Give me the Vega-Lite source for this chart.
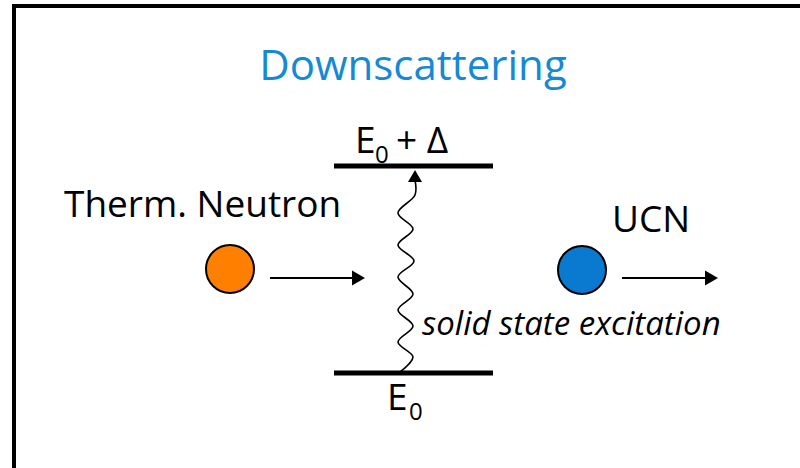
{
  "$schema": "https://vega.github.io/schema/vega-lite/v6.json",
  "width": 800,
  "height": 468,
  "autosize": {"type": "fit", "contains": "padding"},
  "padding": 0,
  "background": "white",
  "config": {"view": {"stroke": null}},
  "datasets": {
    "frame": [{"x": 14, "x2": 830, "y": 6, "y2": 500}],
    "levels": [
      {"level": "E0 + Δ", "x": 334, "x2": 493, "y": 166},
      {"level": "E0", "x": 334, "x2": 493, "y": 373}
    ],
    "arrows": [
      {"arrow": "in", "x": 270, "x2": 355, "y": 278},
      {"arrow": "out", "x": 622, "x2": 708, "y": 278}
    ],
    "heads": [
      {"arrow": "in", "x": 358.5, "y": 278},
      {"arrow": "out", "x": 711.5, "y": 278}
    ],
    "uphead": [{"x": 415, "y": 176}],
    "particles": [
      {"particle": "Therm. Neutron", "x": 230, "y": 269},
      {"particle": "UCN", "x": 582, "y": 270}
    ],
    "wave": [
      {"i": 0, "x": 415, "y": 180},
      {"i": 1, "x": 415, "y": 195},
      {"i": 2, "x": 398, "y": 213},
      {"i": 3, "x": 413, "y": 229},
      {"i": 4, "x": 398, "y": 245},
      {"i": 5, "x": 414, "y": 261},
      {"i": 6, "x": 398, "y": 277},
      {"i": 7, "x": 413, "y": 294},
      {"i": 8, "x": 398, "y": 310},
      {"i": 9, "x": 413, "y": 326},
      {"i": 10, "x": 398, "y": 342},
      {"i": 11, "x": 413, "y": 357},
      {"i": 12, "x": 400, "y": 372}
    ],
    "title": [{"t": "Downscattering", "x": 413, "y": 80}],
    "labels": [
      {"t": "Therm. Neutron", "x": 64, "y": 217},
      {"t": "UCN", "x": 612, "y": 232},
      {"t": "E", "x": 355, "y": 153},
      {"t": "+ Δ", "x": 396, "y": 153},
      {"t": "E", "x": 387, "y": 410}
    ],
    "subs": [
      {"t": "0", "x": 375, "y": 163},
      {"t": "0", "x": 409, "y": 420}
    ],
    "italic": [{"t": "solid state excitation", "x": 422, "y": 335}]
  },
  "encoding": {
    "x": {"field": "x", "type": "quantitative", "scale": {"domain": [0, 800], "nice": false, "zero": false}, "axis": null},
    "y": {"field": "y", "type": "quantitative", "scale": {"domain": [0, 468], "nice": false, "zero": false, "reverse": true}, "axis": null}
  },
  "layer": [
    {
      "data": {"name": "frame"},
      "mark": {"type": "rect", "fill": null, "stroke": "black", "strokeWidth": 4, "clip": true},
      "encoding": {"x2": {"field": "x2"}, "y2": {"field": "y2"}}
    },
    {
      "data": {"name": "levels"},
      "mark": {"type": "rule", "stroke": "black", "strokeWidth": 5},
      "encoding": {"x2": {"field": "x2"}}
    },
    {
      "data": {"name": "arrows"},
      "mark": {"type": "rule", "stroke": "black", "strokeWidth": 2},
      "encoding": {"x2": {"field": "x2"}}
    },
    {
      "data": {"name": "heads"},
      "mark": {"type": "point", "shape": "triangle-right", "filled": true, "fill": "black", "strokeWidth": 0, "opacity": 1, "size": 225}
    },
    {
      "data": {"name": "wave"},
      "mark": {"type": "line", "stroke": "black", "strokeWidth": 1.6, "interpolate": "catmull-rom"},
      "encoding": {"order": {"field": "i", "type": "quantitative"}}
    },
    {
      "data": {"name": "uphead"},
      "mark": {"type": "point", "shape": "triangle-up", "filled": true, "fill": "black", "strokeWidth": 0, "opacity": 1, "size": 196}
    },
    {
      "data": {"name": "particles"},
      "mark": {"type": "point", "shape": "circle", "filled": true, "stroke": "black", "strokeWidth": 2, "opacity": 1, "size": 2304},
      "encoding": {
        "fill": {"field": "particle", "type": "nominal", "scale": {"domain": ["Therm. Neutron", "UCN"], "range": ["#ff7f00", "#0a7ad0"]}, "legend": null}
      }
    },
    {
      "data": {"name": "title"},
      "mark": {"type": "text", "font": "Open Sans", "fontSize": 42, "fill": "#1689d4", "align": "center", "baseline": "alphabetic"},
      "encoding": {"text": {"field": "t"}}
    },
    {
      "data": {"name": "labels"},
      "mark": {"type": "text", "font": "Open Sans", "fontSize": 37, "fill": "black", "align": "left", "baseline": "alphabetic"},
      "encoding": {"text": {"field": "t"}}
    },
    {
      "data": {"name": "subs"},
      "mark": {"type": "text", "font": "Open Sans", "fontSize": 24, "fill": "black", "align": "left", "baseline": "alphabetic"},
      "encoding": {"text": {"field": "t"}}
    },
    {
      "data": {"name": "italic"},
      "mark": {"type": "text", "font": "Open Sans", "fontStyle": "italic", "fontSize": 33, "fill": "black", "align": "left", "baseline": "alphabetic"},
      "encoding": {"text": {"field": "t"}}
    }
  ]
}
